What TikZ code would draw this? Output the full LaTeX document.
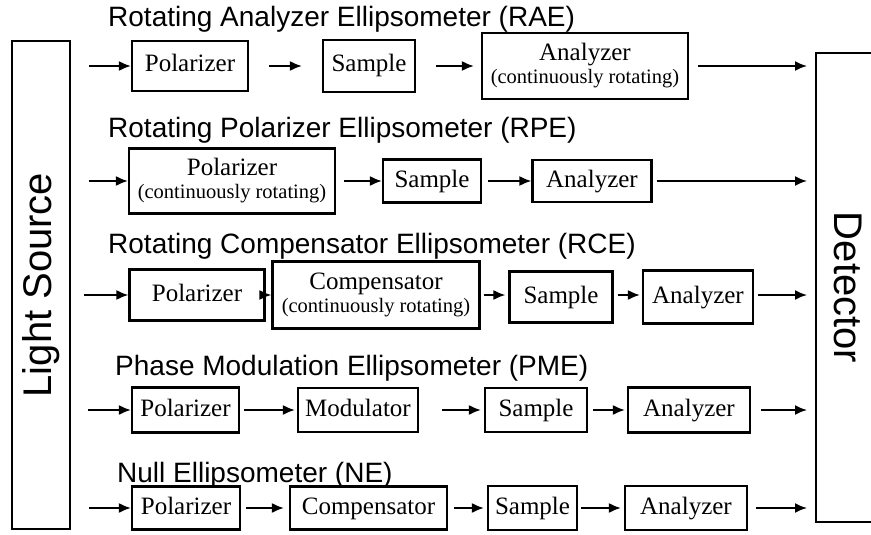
\documentclass[tikz,border=0pt]{standalone}
\usepackage{fontspec}
\setmainfont{Liberation Serif}
\newfontfamily\arialfont{Liberation Sans}
\usetikzlibrary{arrows.meta}
\newcommand\subtxt{\fontsize{20.5}{22}\selectfont}

\begin{document}
\begin{tikzpicture}[x=1pt,y=-1pt,
 box/.style={draw,line width=2.2pt,inner sep=0pt,align=center,text height=17pt,text depth=5pt,font=\fontsize{25}{27}\selectfont},
 twoline/.style={text height=,text depth=},
 side/.style={draw,line width=2pt,inner sep=0pt,font=\arialfont\fontsize{40}{42}\selectfont},
 title/.style={anchor=base west,inner sep=0pt,font=\arialfont\fontsize{28}{30}\selectfont},
 arr/.style={line width=1.8pt,-{Latex[length=12pt,width=10pt]}}]
 \useasboundingbox (0,0) rectangle (871,535);
 \node[side,minimum width=58,minimum height=488] (src) at (41,285) {\rotatebox{90}{Light Source}};
 \node[side,minimum width=64,minimum height=469] (det) at (848,287.5) {\rotatebox{-90}{Detector}};

 \node[title] (tRAE) at (108,27) {Rotating Analyzer Ellipsometer (RAE)};
 \node[box,minimum width=116,minimum height=50] (pol1) at (190,66) {Polarizer};
 \node[box,minimum width=92,minimum height=52] (smp1) at (369,66) {Sample};
 \node[box,twoline,minimum width=206,minimum height=66] (ana1) at (585,66) {Analyzer\\[-4pt]\subtxt (continuously rotating)};
 \draw[arr,shorten <=18pt] (src.east |- pol1) -- (pol1);
 \draw[arr,shorten <=20pt,shorten >=20pt] (pol1) -- (smp1);
 \draw[arr,shorten <=20pt,shorten >=7pt] (smp1) -- (ana1);
 \draw[arr,shorten <=9pt,shorten >=8pt] (ana1) -- (det.west |- ana1);

 \node[title] (tRPE) at (108,137) {Rotating Polarizer Ellipsometer (RPE)};
 \node[box,twoline,minimum width=206,minimum height=65] (pol2) at (232,181) {Polarizer\\[-4pt]\subtxt (continuously rotating)};
 \node[box,minimum width=98,minimum height=43] (smp2) at (432,181) {Sample};
 \node[box,minimum width=119,minimum height=42] (ana2) at (592,181) {Analyzer};
 \draw[arr,shorten <=18pt] (src.east |- pol2) -- (pol2);
 \draw[arr,shorten <=8pt] (pol2) -- (smp2);
 \draw[arr,shorten <=6pt] (smp2) -- (ana2);
 \draw[arr,shorten <=4pt,shorten >=8pt] (ana2) -- (det.west |- ana2);

 \node[title] (tRCE) at (108,253) {Rotating Compensator Ellipsometer (RCE)};
 \node[box,minimum width=135,minimum height=51] (pol3) at (197,295) {Polarizer};
 \node[box,twoline,minimum width=207,minimum height=67] (cmp3) at (376,295) {Compensator\\[-4pt]\subtxt (continuously rotating)};
 \node[box,minimum width=103,minimum height=51] (smp3) at (561,297) {Sample};
 \node[box,minimum width=110,minimum height=53] (ana3) at (698,297) {Analyzer};
 \draw[arr,shorten <=13pt] (src.east |- pol3) -- (pol3);
 \draw[arr] (pol3) -- (cmp3);
 \draw[arr,shorten <=3pt,shorten >=3pt] (cmp3) -- (cmp3 -| smp3.west);
 \draw[arr,shorten <=4pt,shorten >=2pt] (smp3.east |- cmp3) -- (cmp3 -| ana3.west);
 \draw[arr,shorten <=4pt,shorten >=8pt] (ana3.east |- cmp3) -- (det.west |- cmp3);

 \node[title] (tPME) at (115,375) {Phase Modulation Ellipsometer (PME)};
 \node[box,minimum width=107,minimum height=45] (pol4) at (185.5,410) {Polarizer};
 \node[box,minimum width=120,minimum height=44] (mod4) at (358,410) {Modulator};
 \node[box,minimum width=102,minimum height=44] (smp4) at (536,410) {Sample};
 \node[box,minimum width=122,minimum height=45] (ana4) at (689,410) {Analyzer};
 \draw[arr,shorten <=17pt] (src.east |- pol4) -- (pol4);
 \draw[arr,shorten <=4pt,shorten >=2pt] (pol4) -- (mod4);
 \draw[arr,shorten <=23pt,shorten >=3pt] (mod4) -- (smp4);
 \draw[arr,shorten <=5pt,shorten >=2pt] (smp4) -- (ana4);
 \draw[arr,shorten <=10pt,shorten >=8pt] (ana4) -- (det.west |- ana4);

 \node[title] (tNE) at (117,482) {Null Ellipsometer (NE)};
 \node[box,minimum width=108,minimum height=43] (pol5) at (186,508) {Polarizer};
 \node[box,minimum width=157,minimum height=43] (cmp5) at (368.5,508) {Compensator};
 \node[box,minimum width=89,minimum height=44] (smp5) at (532.5,508) {Sample};
 \node[box,minimum width=122,minimum height=44] (ana5) at (686,508) {Analyzer};
 \draw[arr,shorten <=18pt] (src.east |- pol5) -- (pol5);
 \draw[arr,shorten <=5pt,shorten >=5pt] (pol5) -- (cmp5);
 \draw[arr,shorten <=6pt,shorten >=3pt] (cmp5) -- (smp5);
 \draw[arr,shorten <=3pt,shorten >=3pt] (smp5) -- (ana5);
 \draw[arr,shorten <=8pt,shorten >=8pt] (ana5) -- (det.west |- ana5);
\end{tikzpicture}
\end{document}
